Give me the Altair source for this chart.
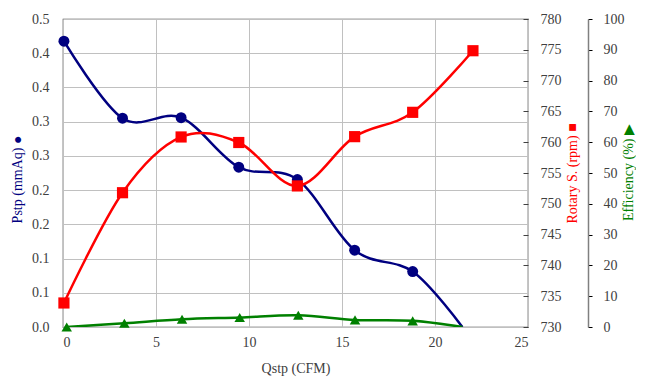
import altair as alt
import pandas as pd

# ---- data ----
x_pstp = [0.05, 3.2, 6.35, 9.45, 12.6, 15.68, 18.8, 21.47]
pstp = [0.4175, 0.305, 0.3058, 0.2335, 0.2155, 0.1122, 0.081, 0.0]
pstp_marker = [True, True, True, True, True, True, True, False]

x_rpm = [0.05, 3.2, 6.35, 9.45, 12.6, 15.68, 18.8, 22.04]
rpm = [733.9, 751.8, 760.85, 759.95, 752.9, 760.9, 764.85, 774.85]
rpm_marker = [True, True, True, True, True, True, True, True]

x_eff = [0.2, 3.3, 6.4, 9.5, 12.65, 15.7, 18.8, 21.47]
eff = [0.0, 1.2, 2.5, 3.1, 3.8, 2.3, 2.0, 0.0]
eff_marker = [True, True, True, True, True, True, True, False]

x_ticks = [0, 5, 10, 15, 20, 25]
pstp_ticks = [0, 0.05, 0.1, 0.15, 0.2, 0.25, 0.3, 0.35, 0.4, 0.45]
pstp_labels = ["0.0", "0.1", "0.1", "0.2", "0.2", "0.3", "0.3", "0.4", "0.4", "0.5"]
rpm_ticks = [730, 735, 740, 745, 750, 755, 760, 765, 770, 775, 780]
eff_ticks = [0, 10, 20, 30, 40, 50, 60, 70, 80, 90, 100]

FONT = "Liberation Serif"
LABEL = "#404040"
GRID = "#c0c0c0"
BLUE = "#000080"
RED = "#ff0000"
GREEN = "#008000"

df_p = pd.DataFrame({"x": x_pstp, "y": pstp, "m": pstp_marker})
df_r = pd.DataFrame({"x": x_rpm, "y": rpm, "m": rpm_marker})
df_e = pd.DataFrame({"x": x_eff, "y": eff, "m": eff_marker})

label_js = "[" + ",".join("'%s'" % s for s in pstp_labels) + "][round(datum.value / 0.05)]"

x_enc = alt.X(
    "x:Q",
    scale=alt.Scale(domain=[0, 25], nice=False, zero=False),
    axis=alt.Axis(
        values=x_ticks, title="Qstp (CFM)", grid=True, gridColor=GRID,
        ticks=False, domain=False, labelPadding=8, labelColor=LABEL,
        titleColor=LABEL, titleY=41, titleBaseline="middle",
    ),
)

y_p = alt.Y(
    "y:Q",
    scale=alt.Scale(domain=[0, 0.45], nice=False, zero=False),
    axis=alt.Axis(
        values=pstp_ticks, labelExpr=label_js, grid=True, gridColor=GRID,
        ticks=False, domain=False, labelPadding=14, labelColor=LABEL,
        title="Pstp (mmAq) \u25CF", titleColor=BLUE,
        titleX=-46, titleY=160, titleAngle=270, titleBaseline="middle",
    ),
)

y_r = alt.Y(
    "y:Q",
    scale=alt.Scale(domain=[730, 780], nice=False, zero=False),
    axis=alt.Axis(
        orient="right", offset=-5, values=rpm_ticks, grid=False,
        tickSize=5, tickColor=LABEL, domain=False, labelPadding=12,
        labelColor=LABEL, title="Rotary S. (rpm) \u25A0", titleColor=RED,
        titleX=49, titleY=154, titleAngle=270, titleBaseline="middle",
    ),
)

y_e = alt.Y(
    "y:Q",
    scale=alt.Scale(domain=[0, 100], nice=False, zero=False),
    axis=alt.Axis(
        orient="right", offset=60, values=eff_ticks, grid=False,
        tickSize=4, tickColor="#000000", domain=True, domainColor="#808080",
        domainWidth=1.5, labelPadding=11, labelColor=LABEL,
        title="Efficiency (%) \u25B6", titleColor=GREEN,
        titleX=40, titleY=153, titleAngle=270, titleBaseline="middle",
    ),
)


def series(df, y_enc, color, shape, size):
    line = alt.Chart(df).mark_line(
        interpolate="cardinal", color=color, strokeWidth=2.5, clip=True
    ).encode(x=x_enc, y=y_enc)
    pts = alt.Chart(df).transform_filter("datum.m").mark_point(
        filled=True, shape=shape, size=size, color=color, opacity=1
    ).encode(x=x_enc, y=y_enc)
    return alt.layer(line, pts)


chart = alt.layer(
    series(df_p, y_p, BLUE, "circle", 120),
    series(df_r, y_r, RED, "square", 125),
    series(df_e, y_e, GREEN, "triangle-up", 110),
).resolve_scale(y="independent").properties(
    width=465,
    height=308,
    padding={"left": 55, "top": 11, "right": 108, "bottom": 55},
    autosize=alt.AutoSizeParams(type="none"),
    background="white",
).configure_view(
    stroke="#404040", strokeWidth=1.2
).configure_axis(
    labelFont=FONT, labelFontSize=14, titleFont=FONT, titleFontSize=14,
    titleFontWeight="normal",
)

chart.save("out.html", embed_options={"renderer": "svg", "actions": False})
